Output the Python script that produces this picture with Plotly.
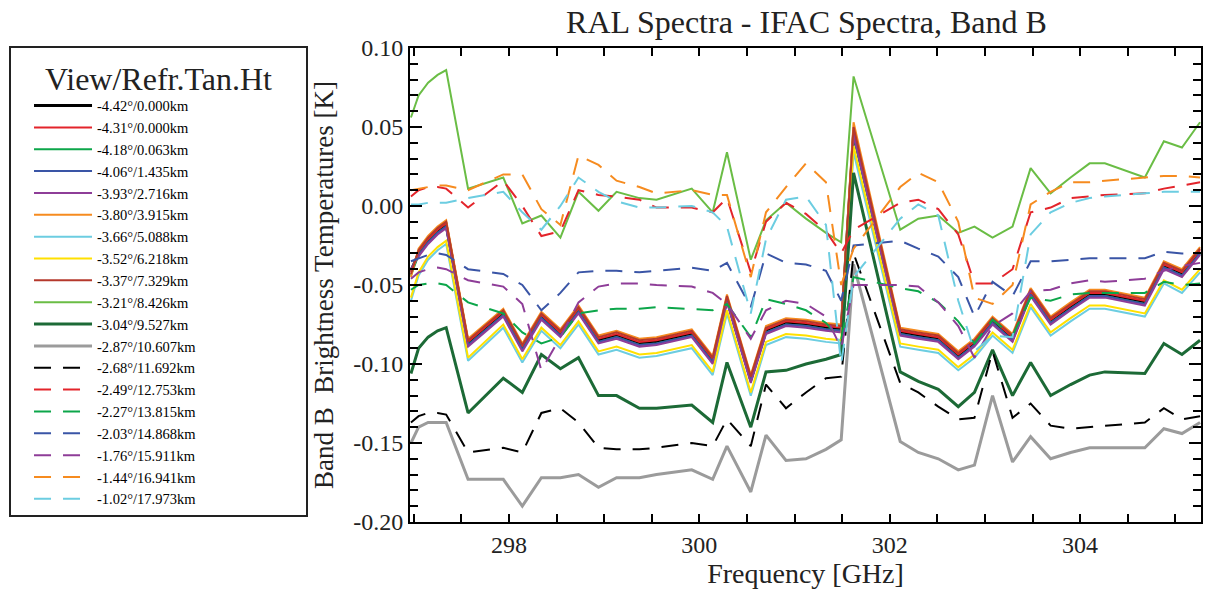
import plotly.graph_objects as go

# ---------------- data ----------------
freq_ghz = [296.97, 297.05, 297.15, 297.25, 297.34, 297.57, 297.94, 298.14, 298.34, 298.54,
            298.73, 298.94, 299.13, 299.37, 299.55, 299.92, 300.14, 300.29, 300.54, 300.70,
            300.91, 301.12, 301.33, 301.49, 301.62, 302.11, 302.30, 302.51, 302.72, 302.89,
            303.08, 303.29, 303.48, 303.69, 303.90, 304.10, 304.26, 304.68, 304.88, 305.07,
            305.26]

labels = ["-4.42°/0.000km", "-4.31°/0.000km", "-4.18°/0.063km", "-4.06°/1.435km",
          "-3.93°/2.716km", "-3.80°/3.915km", "-3.66°/5.088km", "-3.52°/6.218km",
          "-3.37°/7.329km", "-3.21°/8.426km", "-3.04°/9.527km", "-2.87°/10.607km",
          "-2.68°/11.692km", "-2.49°/12.753km", "-2.27°/13.815km", "-2.03°/14.868km",
          "-1.76°/15.911km", "-1.44°/16.941km", "-1.02°/17.973km"]

d_442 = [-0.041, -0.030, -0.022, -0.016, -0.012, -0.087, -0.068, -0.090, -0.070, -0.081, -0.066, -0.085, -0.082, -0.087, -0.086, -0.081, -0.098, -0.059, -0.110, -0.079, -0.074, -0.075, -0.077, -0.078, 0.046, -0.080, -0.082, -0.084, -0.095, -0.087, -0.073, -0.084, -0.055, -0.073, -0.064, -0.056, -0.056, -0.061, -0.038, -0.043, -0.029]
d_431 = [-0.042, -0.029, -0.021, -0.015, -0.011, -0.086, -0.067, -0.089, -0.069, -0.080, -0.065, -0.084, -0.081, -0.086, -0.085, -0.080, -0.097, -0.058, -0.109, -0.078, -0.073, -0.074, -0.076, -0.077, 0.048, -0.079, -0.081, -0.083, -0.094, -0.086, -0.072, -0.083, -0.054, -0.072, -0.063, -0.055, -0.055, -0.060, -0.037, -0.042, -0.028]
d_418 = [-0.044, -0.031, -0.023, -0.017, -0.013, -0.088, -0.069, -0.091, -0.071, -0.082, -0.067, -0.086, -0.083, -0.088, -0.087, -0.082, -0.099, -0.060, -0.111, -0.080, -0.075, -0.076, -0.078, -0.079, 0.044, -0.081, -0.083, -0.085, -0.096, -0.088, -0.074, -0.085, -0.056, -0.074, -0.065, -0.057, -0.057, -0.062, -0.039, -0.044, -0.030]
d_406 = [-0.040, -0.031, -0.023, -0.017, -0.013, -0.088, -0.069, -0.091, -0.071, -0.082, -0.067, -0.086, -0.083, -0.088, -0.087, -0.082, -0.099, -0.060, -0.111, -0.080, -0.075, -0.076, -0.078, -0.079, 0.045, -0.081, -0.083, -0.085, -0.096, -0.088, -0.074, -0.085, -0.056, -0.074, -0.065, -0.057, -0.057, -0.062, -0.039, -0.044, -0.030]
d_393 = [-0.040, -0.032, -0.024, -0.018, -0.014, -0.089, -0.070, -0.092, -0.072, -0.083, -0.068, -0.087, -0.084, -0.089, -0.088, -0.083, -0.100, -0.061, -0.112, -0.081, -0.076, -0.077, -0.079, -0.080, 0.045, -0.082, -0.084, -0.086, -0.097, -0.089, -0.075, -0.086, -0.057, -0.075, -0.066, -0.058, -0.058, -0.063, -0.040, -0.045, -0.031]
d_380 = [-0.045, -0.027, -0.019, -0.013, -0.009, -0.084, -0.065, -0.087, -0.067, -0.078, -0.063, -0.082, -0.079, -0.084, -0.083, -0.078, -0.095, -0.056, -0.107, -0.076, -0.071, -0.072, -0.074, -0.075, 0.053, -0.077, -0.079, -0.081, -0.092, -0.084, -0.070, -0.081, -0.052, -0.070, -0.061, -0.053, -0.053, -0.058, -0.035, -0.040, -0.026]
d_366 = [-0.060, -0.044, -0.034, -0.028, -0.024, -0.098, -0.077, -0.099, -0.079, -0.090, -0.075, -0.094, -0.091, -0.096, -0.095, -0.090, -0.107, -0.068, -0.120, -0.088, -0.083, -0.084, -0.086, -0.087, 0.034, -0.089, -0.091, -0.093, -0.104, -0.096, -0.082, -0.093, -0.064, -0.082, -0.073, -0.065, -0.065, -0.070, -0.049, -0.055, -0.042]
d_352 = [-0.058, -0.042, -0.032, -0.026, -0.022, -0.096, -0.075, -0.097, -0.077, -0.088, -0.073, -0.092, -0.089, -0.094, -0.093, -0.088, -0.105, -0.066, -0.118, -0.086, -0.081, -0.082, -0.084, -0.085, 0.038, -0.087, -0.089, -0.091, -0.102, -0.094, -0.080, -0.091, -0.062, -0.080, -0.071, -0.063, -0.063, -0.068, -0.047, -0.053, -0.040]
d_337 = [-0.043, -0.028, -0.020, -0.014, -0.010, -0.085, -0.066, -0.088, -0.068, -0.079, -0.064, -0.083, -0.080, -0.085, -0.084, -0.079, -0.096, -0.057, -0.108, -0.077, -0.072, -0.073, -0.075, -0.076, 0.050, -0.078, -0.080, -0.082, -0.093, -0.085, -0.071, -0.082, -0.053, -0.071, -0.062, -0.054, -0.054, -0.059, -0.036, -0.041, -0.027]
d_321 = [0.056, 0.070, 0.078, 0.083, 0.086, 0.011, 0.018, -0.011, -0.006, -0.020, 0.009, -0.003, 0.009, 0.005, 0.004, 0.011, -0.004, 0.034, -0.034, -0.009, 0.002, -0.008, -0.017, -0.023, 0.082, -0.015, -0.008, -0.006, -0.017, -0.013, -0.020, -0.013, 0.024, 0.008, 0.018, 0.027, 0.027, 0.018, 0.041, 0.037, 0.053]
d_304 = [-0.106, -0.090, -0.083, -0.079, -0.077, -0.131, -0.109, -0.118, -0.094, -0.103, -0.096, -0.120, -0.120, -0.128, -0.128, -0.126, -0.137, -0.099, -0.140, -0.105, -0.104, -0.100, -0.097, -0.094, 0.021, -0.105, -0.111, -0.116, -0.127, -0.118, -0.091, -0.120, -0.099, -0.120, -0.113, -0.107, -0.105, -0.106, -0.087, -0.094, -0.085]
d_287 = [-0.150, -0.140, -0.137, -0.137, -0.137, -0.173, -0.173, -0.190, -0.172, -0.172, -0.170, -0.178, -0.172, -0.172, -0.170, -0.167, -0.173, -0.152, -0.181, -0.145, -0.161, -0.160, -0.154, -0.148, -0.037, -0.149, -0.156, -0.160, -0.167, -0.164, -0.120, -0.162, -0.146, -0.160, -0.156, -0.153, -0.153, -0.153, -0.141, -0.144, -0.137]
d_268 = [-0.137, -0.133, -0.131, -0.131, -0.132, -0.156, -0.153, -0.156, -0.131, -0.128, -0.137, -0.153, -0.154, -0.154, -0.153, -0.150, -0.152, -0.135, -0.152, -0.113, -0.128, -0.118, -0.109, -0.108, -0.030, -0.112, -0.118, -0.127, -0.135, -0.134, -0.092, -0.134, -0.125, -0.139, -0.141, -0.140, -0.139, -0.137, -0.128, -0.135, -0.133]
d_249 = [0.006, 0.010, 0.012, 0.012, 0.011, -0.001, 0.016, 0.000, -0.019, -0.016, 0.010, 0.007, 0.006, 0.004, -0.001, -0.001, -0.004, 0.005, -0.042, -0.010, 0.002, -0.005, -0.016, -0.030, -0.015, 0.002, 0.004, -0.002, -0.018, -0.049, -0.049, -0.040, -0.004, -0.001, 0.005, 0.006, 0.007, 0.008, 0.011, 0.013, 0.015]
d_227 = [-0.053, -0.050, -0.049, -0.049, -0.050, -0.061, -0.068, -0.080, -0.087, -0.083, -0.068, -0.066, -0.065, -0.065, -0.064, -0.065, -0.066, -0.062, -0.083, -0.059, -0.062, -0.066, -0.074, -0.085, -0.045, -0.052, -0.054, -0.061, -0.073, -0.087, -0.072, -0.082, -0.058, -0.060, -0.056, -0.055, -0.055, -0.055, -0.048, -0.050, -0.049]
d_203 = [-0.035, -0.033, -0.031, -0.030, -0.031, -0.040, -0.043, -0.050, -0.066, -0.055, -0.042, -0.041, -0.041, -0.042, -0.041, -0.039, -0.041, -0.036, -0.064, -0.030, -0.036, -0.037, -0.041, -0.060, -0.025, -0.022, -0.027, -0.032, -0.045, -0.070, -0.048, -0.057, -0.035, -0.035, -0.034, -0.033, -0.033, -0.033, -0.029, -0.030, -0.030]
d_176 = [-0.046, -0.042, -0.040, -0.039, -0.040, -0.047, -0.051, -0.062, -0.104, -0.083, -0.061, -0.051, -0.049, -0.049, -0.050, -0.051, -0.055, -0.062, -0.084, -0.066, -0.060, -0.062, -0.070, -0.090, -0.050, -0.050, -0.051, -0.061, -0.076, -0.096, -0.076, -0.068, -0.054, -0.053, -0.049, -0.047, -0.048, -0.046, -0.041, -0.038, -0.036]
d_144 = [0.010, 0.011, 0.012, 0.013, 0.013, 0.010, 0.020, 0.020, -0.002, -0.012, 0.032, 0.026, 0.016, 0.012, 0.008, 0.010, 0.007, 0.007, -0.045, -0.004, 0.012, 0.027, 0.015, -0.050, -0.027, 0.012, 0.021, 0.015, -0.010, -0.058, -0.062, -0.050, 0.001, 0.009, 0.015, 0.015, 0.016, 0.018, 0.019, 0.019, 0.018]
d_102 = [0.001, 0.001, 0.002, 0.002, 0.002, 0.005, 0.009, -0.004, -0.015, 0.000, 0.018, 0.009, 0.003, -0.001, -0.001, 0.000, -0.004, -0.013, -0.068, -0.021, 0.004, 0.006, -0.012, -0.100, -0.045, -0.008, 0.001, -0.006, -0.060, -0.092, -0.082, -0.083, -0.018, -0.004, 0.002, 0.005, 0.006, 0.008, 0.009, 0.009, 0.009]

series_values = [d_442, d_431, d_418, d_406, d_393, d_380, d_366, d_352, d_337, d_321,
                 d_304, d_287, d_268, d_249, d_227, d_203, d_176, d_144, d_102]

y_tick_vals = [-0.20, -0.15, -0.10, -0.05, 0.00, 0.05, 0.10]
y_tick_text = ["-0.20", "-0.15", "-0.10", "-0.05", "0.00", "0.05", "0.10"]
x_tick_vals = [298, 300, 302, 304]
x_tick_text = ["298", "300", "302", "304"]

# ---------------- styles ----------------
colors = ["#000000", "#e3242b", "#0ca64a", "#3a55a6", "#8e3d98", "#f68b1f", "#6ccde1",
          "#ffe000", "#b5392c", "#6abd45", "#1c6a36", "#9b9b9b",
          "#000000", "#e3242b", "#0ca64a", "#3a55a6", "#8e3d98", "#f68b1f", "#6ccde1"]
dashes = ["solid"] * 12 + ["17px,12px"] * 7
widths = [3, 2, 2, 2, 2, 2, 2, 2, 2, 2, 3, 3, 2, 2, 2, 2, 2, 2, 2]

FONT = "Liberation Serif, Times New Roman, serif"
TXT = "#222222"
NB = "\u00a0" * 4

fig = go.Figure()
for name, vals, col, dsh, w in zip(labels, series_values, colors, dashes, widths):
    fig.add_trace(go.Scatter(x=freq_ghz, y=vals, mode="lines", name=name,
                             line=dict(color=col, dash=dsh, width=w)))

W, H = 1205, 596
ml, mr, mt, mb = 410, 2, 48, 74
pw, ph = W - ml - mr, H - mt - mb

fig.update_layout(
    width=W, height=H,
    margin=dict(l=ml, r=mr, t=mt, b=mb, pad=0),
    paper_bgcolor="white", plot_bgcolor="white",
    font=dict(family=FONT, color="black", size=22),
    title=dict(text="RAL Spectra - IFAC Spectra, Band B", x=0.5 * pw / W + ml / W,
               xanchor="center", y=1 - 22 / H, yanchor="middle",
               font=dict(size=32, family=FONT, color=TXT)),
    showlegend=True,
    legend=dict(x=(8 - ml) / pw, xanchor="left", y=1 + (mt - 46) / ph, yanchor="top",
                bgcolor="white", bordercolor="#222", borderwidth=2,
                font=dict(size=14.5, family=FONT, color="black"),
                title=dict(text=NB + "View/Refr.Tan.Ht" + NB, side="top center",
                           font=dict(size=32, family=FONT, color=TXT)),
                itemwidth=58, tracegroupgap=0, maxheight=560, indentation=18),
    xaxis=dict(range=[296.96, 305.27], showgrid=False, zeroline=False,
               showline=True, linecolor="black", linewidth=2, mirror="ticks",
               ticks="inside", ticklen=8, tickwidth=1.5, tickcolor="black",
               tickmode="array", tickvals=x_tick_vals, ticktext=x_tick_text,
               tickfont=dict(size=24, family=FONT, color=TXT),
               minor=dict(tickmode="linear", tick0=0, dtick=0.5, ticks="inside",
                          ticklen=8, tickwidth=1.5, tickcolor="black", showgrid=False),
               title=dict(text="Frequency [GHz]", standoff=2,
                          font=dict(size=28, family=FONT, color=TXT))),
    yaxis=dict(range=[-0.2, 0.1], showgrid=False, zeroline=False,
               showline=True, linecolor="black", linewidth=2, mirror="ticks",
               ticks="inside", ticklen=12, tickwidth=2, tickcolor="black",
               tickmode="array", tickvals=y_tick_vals, ticktext=y_tick_text,
               tickfont=dict(size=24, family=FONT, color=TXT),
               minor=dict(tickmode="linear", tick0=0, dtick=0.01, ticks="inside",
                          ticklen=8, tickwidth=1.5, tickcolor="black", showgrid=False),
               title=dict(text="Band B  Brightness Temperatures [K]", standoff=12,
                          font=dict(size=27, family=FONT, color=TXT))),
)

fig.write_html("out.html")
